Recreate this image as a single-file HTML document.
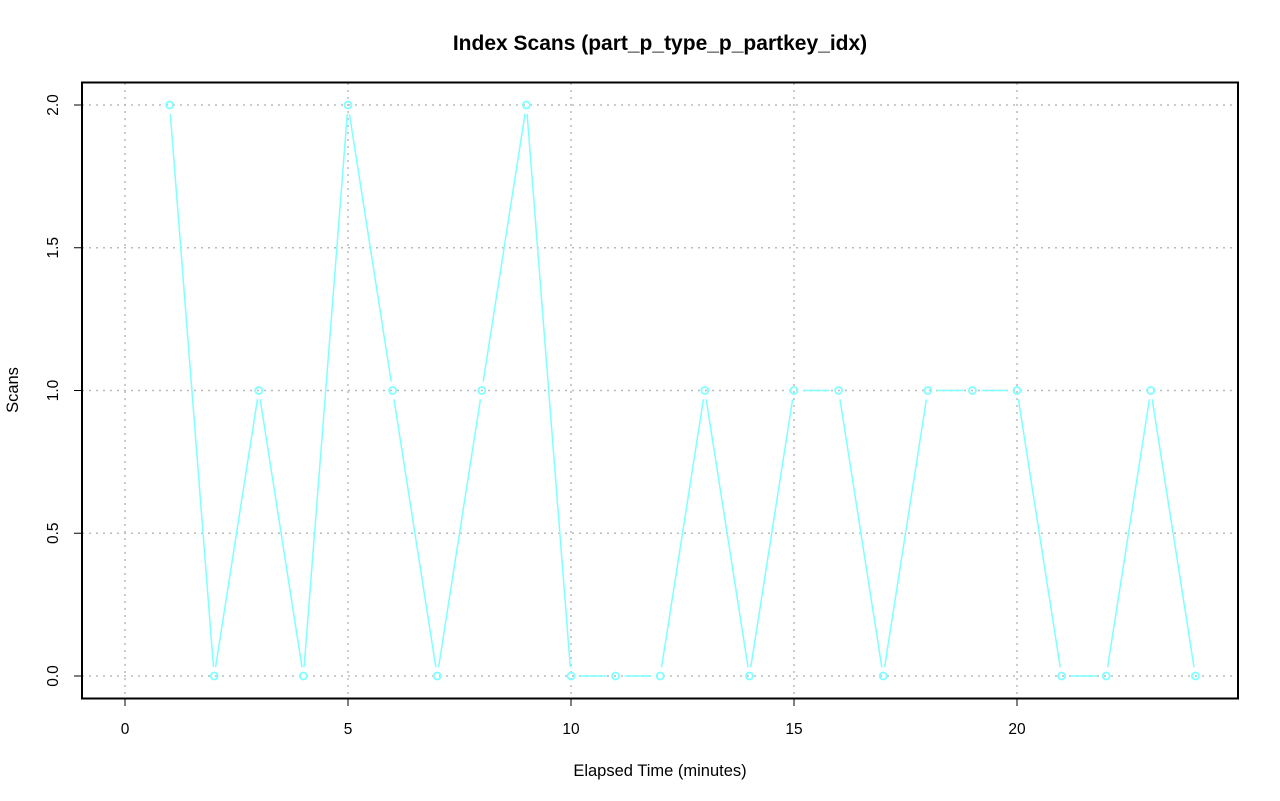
<!DOCTYPE html>
<html><head><meta charset="utf-8"><style>body{margin:0;background:#fff}svg{display:block}text{font-family:"Liberation Sans",Arial,sans-serif}</style></head>
<body>
<svg id="s" width="1280" height="801" xmlns="http://www.w3.org/2000/svg">
<rect width="1280" height="801" fill="#fff"/>
<text x="660" y="50" font-size="21" font-weight="bold" text-anchor="middle">Index Scans (part_p_type_p_partkey_idx)</text>
<text x="660" y="776" font-size="16.5" text-anchor="middle">Elapsed Time (minutes)</text>
<text transform="translate(18,390) rotate(-90)" font-size="16.5" text-anchor="middle">Scans</text>
<g id="g"></g>
<rect x="82" y="82.5" width="1156" height="616" fill="none" stroke="#000" stroke-width="2"/>
</svg>
<script>
var g=document.getElementById('g'),h='';
function X(v){return 125+v*44.6}function Y(v){return 676-v*285.5}
for(var i=0;i<=20;i+=5){h+='<line x1="'+X(i)+'" y1="83" x2="'+X(i)+'" y2="698" stroke="#bbb" stroke-dasharray="2,5" stroke-width="1.5"/>';
h+='<line x1="'+X(i)+'" y1="698" x2="'+X(i)+'" y2="706" stroke="#000"/>';
h+='<text x="'+X(i)+'" y="734" font-size="15.5" text-anchor="middle">'+i+'</text>';}
h+='<line x1="'+X(0)+'" y1="698" x2="'+X(20)+'" y2="698" stroke="#000"/>';
for(var j=0;j<=4;j++){var v=j*0.5,y=Y(v);
h+='<line x1="82" y1="'+y+'" x2="1238" y2="'+y+'" stroke="#bbb" stroke-dasharray="2,5" stroke-width="1.5"/>';
h+='<line x1="74" y1="'+y+'" x2="82" y2="'+y+'" stroke="#000"/>';
h+='<text transform="translate(58,'+y+') rotate(-90)" font-size="15.5" text-anchor="middle">'+v.toFixed(1)+'</text>';}
var d=[2,0,1,0,2,1,0,1,2,0,0,0,1,0,1,1,0,1,1,1,0,0,1,0];
for(var k=0;k<d.length-1;k++){var x1=X(k+1),y1=Y(d[k]),x2=X(k+2),y2=Y(d[k+1]);
var dx=x2-x1,dy=y2-y1,L=Math.sqrt(dx*dx+dy*dy),g0=9;
if(L>2*g0)h+='<line x1="'+(x1+dx*g0/L)+'" y1="'+(y1+dy*g0/L)+'" x2="'+(x2-dx*g0/L)+'" y2="'+(y2-dy*g0/L)+'" stroke="#7fffff" stroke-width="1.5"/>';}
for(var k=0;k<d.length;k++)h+='<circle cx="'+X(k+1)+'" cy="'+Y(d[k])+'" r="3.5" fill="none" stroke="#7fffff" stroke-width="1.8"/>';
g.innerHTML=h;
</script>
</body></html>
